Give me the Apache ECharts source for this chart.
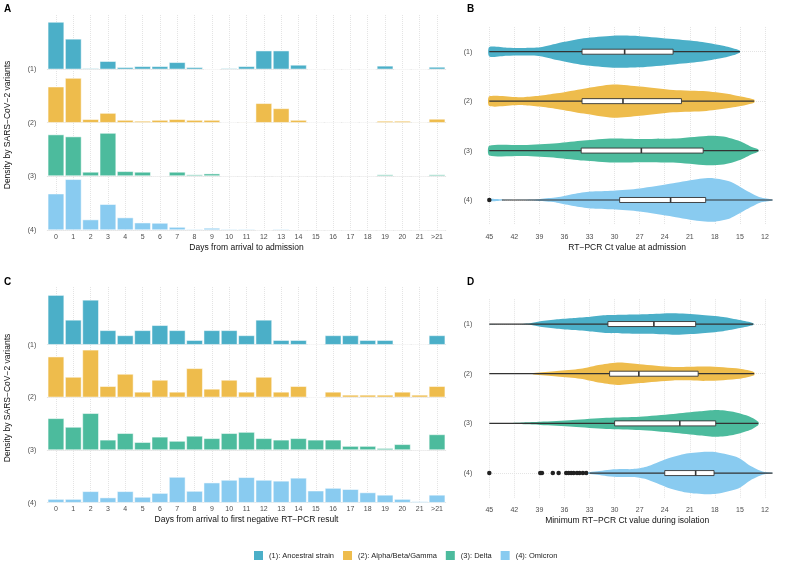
<!DOCTYPE html>
<html>
<head>
<meta charset="utf-8">
<script src="https://cdn.jsdelivr.net/npm/echarts@6/dist/echarts.min.js"></script>
<style>
  html, body { margin: 0; padding: 0; background: #fff; }
  #chart { width: 787px; height: 565px; }
</style>
</head>
<body>
<div id="chart"></div>
<script>
// categories
const days = ['0', '1', '2', '3', '4', '5', '6', '7', '8', '9', '10', '11', '12', '13', '14', '15', '16', '17', '18', '19', '20', '21', '>21']
const variants = ['(1): Ancestral strain', '(2): Alpha/Beta/Gamma', '(3): Delta', '(4): Omicron']
const rowLabels = ['(1)', '(2)', '(3)', '(4)']
const ctTicks = [12, 45, 3] // min, max, step

// A: days from arrival to admission (% per day)
const admitAncestral = [30.5, 19.6, 0.6, 5.2, 1.3, 1.9, 1.9, 4.5, 1.3, 0, 0.6, 1.9, 12.0, 12.0, 2.8, 0, 0, 0, 0, 2.2, 0, 0, 1.5]
const admitAlpha = [23.2, 28.8, 2.2, 6.2, 1.7, 1.1, 1.7, 2.2, 1.7, 1.7, 0, 0.4, 12.5, 9.2, 1.7, 0, 0, 0, 0, 1.1, 1.1, 0.4, 2.4]
const admitDelta = [26.7, 25.4, 2.6, 27.7, 3.0, 2.6, 0.2, 2.6, 0.9, 1.5, 0, 0, 0.2, 0, 0, 0, 0, 0, 0, 0.9, 0.2, 0, 0.9]
const admitOmicron = [23.4, 32.7, 6.7, 16.6, 8.0, 4.7, 4.5, 1.9, 0.6, 1.3, 0.6, 0.6, 0, 0.6, 0, 0, 0, 0, 0, 0, 0, 0, 0]

// C: days from arrival to first negative RT-PCR (% per day)
const negAncestral = [16.6, 8.3, 15.0, 4.8, 3.1, 4.8, 6.5, 4.8, 1.5, 4.8, 4.8, 3.1, 8.3, 1.5, 1.5, 0, 3.1, 3.1, 1.5, 1.5, 0, 0, 3.1]
const negAlpha = [13.6, 6.8, 15.9, 3.7, 7.8, 1.8, 5.8, 1.8, 9.7, 2.8, 5.8, 1.8, 6.8, 1.8, 3.7, 0, 1.8, 0.8, 0.8, 0.8, 1.8, 0.8, 3.7]
const negDelta = [10.6, 7.7, 12.3, 3.4, 5.6, 2.6, 4.4, 3.0, 4.7, 3.9, 5.6, 6.0, 3.9, 3.4, 3.9, 3.4, 3.4, 1.3, 1.3, 0.6, 1.9, 0.1, 5.2]
const negOmicron = [1.2, 1.2, 3.8, 1.7, 3.8, 1.9, 3.2, 8.6, 3.9, 6.7, 7.6, 8.5, 7.6, 7.3, 8.3, 4.0, 4.9, 4.5, 3.4, 2.6, 1.2, 0.4, 2.6]

// B: violin profiles [ct, relative width], Ct at admission
const violinAdmit1 = [[45, 0.21], [42.9, 0.18], [40.9, 0.17], [38.9, 0.2], [36.9, 0.37], [33.7, 0.6], [30.2, 0.72], [27, 0.7], [23, 0.57], [19.8, 0.45], [17, 0.27], [15.5, 0.12], [15, 0.04]]
const violinAdmit2 = [[45, 0.22], [42, 0.19], [40.9, 0.18], [39, 0.24], [36.9, 0.35], [33.7, 0.56], [30.2, 0.75], [27, 0.66], [23, 0.5], [19, 0.44], [15.8, 0.28], [13.3, 0.07]]
const violinAdmit3 = [[45, 0.22], [40.9, 0.25], [36.9, 0.33], [33.7, 0.45], [30.2, 0.54], [27, 0.52], [23, 0.54], [19, 0.66], [17, 0.63], [15, 0.42], [13.5, 0.15], [12.8, 0.05]]
const violinAdmit4 = [[45, 0.05], [44, 0.04], [43.2, 0.01], [42, 0.005], [40.5, 0.01], [39.3, 0.03], [38.9, 0.05], [36.9, 0.12], [34.9, 0.27], [32.9, 0.38], [30.2, 0.42], [27, 0.52], [23, 0.75], [19.8, 0.95], [18.2, 0.98], [16.2, 0.83], [14.2, 0.42], [12.6, 0.12], [11.1, 0.02]]
// box stats [min, q1, median, q3, max]
const boxAdmit = [[15.0, 23.0, 28.8, 33.9, 45], [13.3, 22.0, 29.0, 33.9, 45], [12.8, 19.4, 26.8, 34.0, 45], [11.1, 19.1, 23.3, 29.4, 43.5]]
const outAdmit4 = [45]

// D: minimum Ct during isolation
const violinMin1 = [[45, 0.005], [41, 0.005], [40.1, 0.03], [38.9, 0.12], [36.9, 0.21], [34.9, 0.27], [32.9, 0.33], [30.9, 0.4], [28.9, 0.42], [26.1, 0.44], [23, 0.48], [19.8, 0.42], [17, 0.32], [15, 0.18], [13.4, 0.04]]
const violinMin2 = [[45, 0.015], [40, 0.015], [39.7, 0.03], [36.9, 0.12], [34.1, 0.22], [31.7, 0.4], [29.4, 0.5], [27, 0.42], [23, 0.3], [19, 0.32], [15, 0.22], [13.3, 0.07]]
const violinMin3 = [[45, 0.005], [43, 0.01], [40.9, 0.04], [38.9, 0.07], [35, 0.15], [31, 0.25], [27, 0.3], [23, 0.42], [19.8, 0.54], [17.8, 0.6], [15.8, 0.52], [13.8, 0.3], [12.8, 0.07]]
const violinMin4 = [[33.3, 0.02], [32.1, 0.08], [30.9, 0.14], [29.4, 0.18], [27.8, 0.18], [26.2, 0.28], [23.8, 0.63], [21.4, 0.87], [19, 0.95], [17.8, 0.93], [15.2, 0.69], [13.6, 0.29], [12.3, 0.07], [11.1, 0.01]]
const boxMin = [[13.4, 20.3, 25.3, 30.8, 45], [13.3, 20.0, 27.1, 30.6, 45], [12.8, 17.9, 22.2, 30.0, 45], [11.1, 18.1, 20.3, 24.0, 33.0]]
const outMin4 = [45, 38.9, 38.7, 37.4, 36.7, 35.8, 35.5, 35.2, 34.9, 34.5, 34.2, 33.8, 33.4]

const colors = ['#4BAFC8', '#EEBC4C', '#4CBB9D', '#89CBF0']
const font = 'Liberation Sans, Arial, sans-serif'
const gridColor = '#e4e4e4'
const tickColor = '#4d4d4d'

const chart = echarts.init(document.getElementById('chart'), null, { renderer: 'canvas' })

let grids = []
let xAxes = []
let yAxes = []
let series = []

// ridgeline histogram panel: background grid for gridlines/labels + one grid per row
function addHistPanel (rows, baselines, ymax, pxPerUnit, top, bottom, title) {
  let g = grids.length
  grids.push({ left: 56, width: 381, top: top, height: bottom - top })
  xAxes.push({
    gridIndex: g,
    type: 'category',
    data: days,
    boundaryGap: false,
    axisLine: { show: false },
    axisTick: { show: false },
    axisLabel: { interval: 0, margin: 3, fontSize: 7, color: tickColor, fontFamily: font },
    splitLine: { show: true, interval: 0, lineStyle: { color: gridColor, type: 'dotted', width: 1 } },
    name: title,
    nameLocation: 'middle',
    nameGap: 12,
    nameTextStyle: { fontSize: 8.5, color: '#111', fontFamily: font }
  })
  yAxes.push({ gridIndex: g, type: 'value', show: false })
  let h = ymax / pxPerUnit
  rows.forEach(function (vals, i) {
    let gi = grids.length
    grids.push({ left: 47.3, width: 398.4, top: baselines[i] - h, height: h })
    xAxes.push({
      gridIndex: gi,
      type: 'category',
      data: days,
      axisLine: { show: true, lineStyle: { color: gridColor, type: 'dotted', width: 1 } },
      axisTick: { show: false },
      axisLabel: { show: false },
      splitLine: { show: false }
    })
    yAxes.push({
      gridIndex: gi,
      type: 'value',
      min: 0,
      max: ymax,
      interval: ymax,
      axisLine: { show: false },
      axisTick: { show: false },
      splitLine: { show: false },
      axisLabel: {
        margin: 11,
        fontSize: 7,
        color: tickColor,
        fontFamily: font,
        formatter: function (v) { return v === 0 ? rowLabels[i] : '' }
      }
    })
    series.push({
      name: variants[i],
      type: 'bar',
      xAxisIndex: gi,
      yAxisIndex: gi,
      data: vals,
      barCategoryGap: '6%',
      itemStyle: { color: colors[i], borderColor: '#fff', borderWidth: 0.5 }
    })
  })
}

function violinRender (prof, row, color) {
  return function (params, api) {
    if (params.dataIndex !== 0) return
    let half = api.size([0, 1])[1] * 0.45
    let top = []
    let bot = []
    prof.forEach(function (p) {
      let c = api.coord([p[0], row])
      top.push([c[0], c[1] - p[1] * half])
      bot.unshift([c[0], c[1] + p[1] * half])
    })
    return {
      type: 'polygon',
      shape: { points: top.concat(bot), smooth: 0.25 },
      style: { fill: color }
    }
  }
}

function boxRender (params, api) {
  let row = api.value(5)
  let lo = api.coord([api.value(0), row])
  let q1 = api.coord([api.value(1), row])
  let md = api.coord([api.value(2), row])
  let q3 = api.coord([api.value(3), row])
  let hi = api.coord([api.value(4), row])
  let h = 5
  return {
    type: 'group',
    children: [
      { type: 'line', shape: { x1: lo[0], y1: lo[1], x2: hi[0], y2: hi[1] }, style: { stroke: '#333', lineWidth: 1.2, lineDash: null } },
      { type: 'rect', shape: { x: Math.min(q1[0], q3[0]), y: q1[1] - h / 2, width: Math.abs(q3[0] - q1[0]), height: h }, style: { fill: '#fff', stroke: '#333', lineWidth: 0.9 } },
      { type: 'line', shape: { x1: md[0], y1: md[1] - h / 2, x2: md[0], y2: md[1] + h / 2 }, style: { stroke: '#333', lineWidth: 1.6 } }
    ]
  }
}

function addViolinPanel (profiles, boxes, outliers, top, height, title) {
  let g = grids.length
  grids.push({ left: 489.3, width: 275.7, top: top, height: height })
  xAxes.push({
    gridIndex: g,
    type: 'value',
    inverse: true,
    min: ctTicks[0],
    max: ctTicks[1],
    interval: ctTicks[2],
    axisLine: { show: false },
    axisTick: { show: false },
    axisLabel: { margin: 8.5, fontSize: 7, color: tickColor, fontFamily: font },
    splitLine: { show: true, lineStyle: { color: gridColor, type: 'dotted', width: 1 } },
    name: title,
    nameLocation: 'middle',
    nameGap: 18,
    nameTextStyle: { fontSize: 8.5, color: '#111', fontFamily: font }
  })
  yAxes.push({
    gridIndex: g,
    type: 'category',
    data: rowLabels,
    inverse: true,
    axisLine: { show: false },
    axisTick: { show: false },
    splitLine: { show: false },
    axisLabel: { margin: 17, fontSize: 7, color: tickColor, fontFamily: font }
  })
  // horizontal dotted gridlines behind the violins
  series.push({
    name: 'rows' + g,
    type: 'scatter',
    xAxisIndex: g,
    yAxisIndex: g,
    z: 0,
    data: [],
    markLine: {
      z: 0,
      silent: true,
      symbol: ['none', 'none'],
      label: { show: false },
      lineStyle: { color: gridColor, type: 'dotted', width: 1 },
      data: rowLabels.map(function (r) { return { yAxis: r } })
    }
  })
  profiles.forEach(function (prof, i) {
    series.push({
      name: 'violin' + g + i,
      type: 'custom',
      xAxisIndex: g,
      yAxisIndex: g,
      z: 2,
      renderItem: violinRender(prof, i, colors[i]),
      encode: { x: 0, y: 1 },
      data: prof.map(function (p) { return [p[0], i] })
    })
  })
  series.push({
    name: 'box' + g,
    type: 'custom',
    xAxisIndex: g,
    yAxisIndex: g,
    z: 6,
    renderItem: boxRender,
    encode: { x: [0, 1, 2, 3, 4], y: 5 },
    data: boxes.map(function (b, i) { return b.concat([i]) })
  })
  series.push({
    name: 'out' + g,
    type: 'scatter',
    xAxisIndex: g,
    yAxisIndex: g,
    z: 7,
    symbol: 'circle',
    symbolSize: 4.5,
    itemStyle: { color: '#222', opacity: 1 },
    data: outliers.map(function (v) { return [v, 3] })
  })
}

addHistPanel([admitAncestral, admitAlpha, admitDelta, admitOmicron], [69.3, 122.7, 176, 230], 40, 0.645, 15, 231, 'Days from arrival to admission')
addHistPanel([negAncestral, negAlpha, negDelta, negOmicron], [344.7, 397.3, 450, 502.7], 20, 0.335, 287, 503, 'Days from arrival to first negative RT\u2212PCR result')
addViolinPanel([violinAdmit1, violinAdmit2, violinAdmit3, violinAdmit4], boxAdmit, outAdmit4, 27, 197.7, 'RT\u2212PCR Ct value at admission')
addViolinPanel([violinMin1, violinMin2, violinMin3, violinMin4], boxMin, outMin4, 299.2, 198.7, 'Minimum RT\u2212PCR Ct value during isolation')

function panelLetter (txt, x, y) {
  return { type: 'text', left: x, top: y, style: { text: txt, font: 'bold 10px ' + font, fill: '#000' } }
}
function yTitle (y) {
  return {
    type: 'text',
    x: 8,
    y: y,
    rotation: Math.PI / 2,
    style: { text: 'Density by SARS\u2212CoV\u22122 variants', font: '8.5px ' + font, fill: '#111', textAlign: 'center', textVerticalAlign: 'middle' }
  }
}

let option = {
  animation: false,
  backgroundColor: '#fff',
  textStyle: { fontFamily: font },
  grid: grids,
  xAxis: xAxes,
  yAxis: yAxes,
  series: series,
  legend: {
    data: variants,
    left: 252,
    top: 549,
    padding: 0,
    icon: 'rect',
    itemWidth: 11,
    itemHeight: 11,
    itemGap: 7,
    selectedMode: false,
    textStyle: { fontSize: 7.5, color: '#222', fontFamily: font }
  },
  graphic: [
    panelLetter('A', 4, 4),
    panelLetter('B', 467, 4),
    panelLetter('C', 4, 277),
    panelLetter('D', 467, 277),
    yTitle(125),
    yTitle(398)
  ]
}

chart.setOption(option)
</script>
</body>
</html>
